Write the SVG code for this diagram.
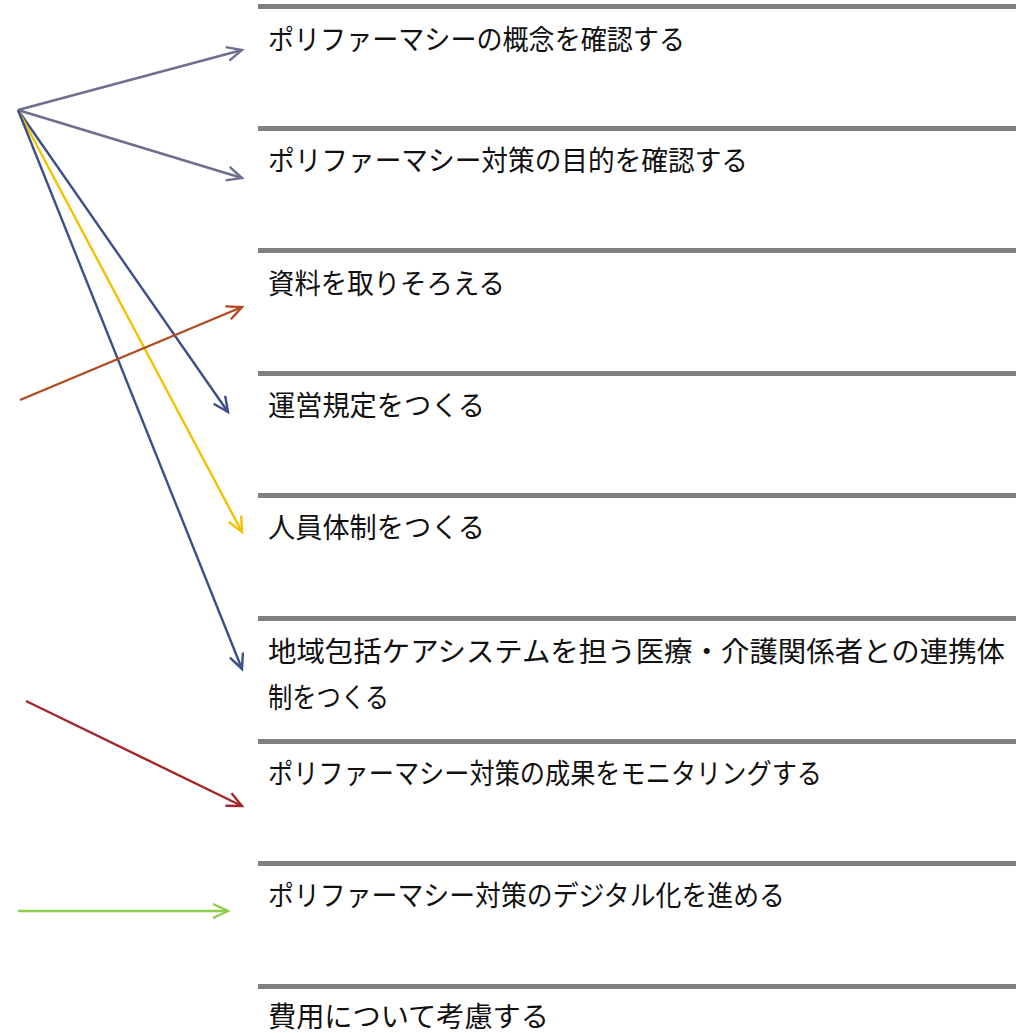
<svg xmlns="http://www.w3.org/2000/svg" width="1023" height="1033" viewBox="0 0 1023 1033">
<style>
.bar{fill:#808080}
.t{font-family:"Noto Sans CJK JP","Noto Sans",sans-serif;font-size:28px;fill:#111}
.c{fill:none;stroke-width:2.4}
</style>
<defs>
<marker id="mGray" markerWidth="20" markerHeight="20" refX="16" refY="8" orient="auto" markerUnits="userSpaceOnUse"><path d="M1,1 L16,8 L1,15" fill="none" stroke="#6E6E8E" stroke-width="2.4"/></marker>
<marker id="mNavy" markerWidth="20" markerHeight="20" refX="16" refY="8" orient="auto" markerUnits="userSpaceOnUse"><path d="M1,1 L16,8 L1,15" fill="none" stroke="#3D4F8A" stroke-width="2.4"/></marker>
<marker id="mYel" markerWidth="20" markerHeight="20" refX="16" refY="8" orient="auto" markerUnits="userSpaceOnUse"><path d="M1,1 L16,8 L1,15" fill="none" stroke="#F2C200" stroke-width="2.4"/></marker>
<marker id="mOr" markerWidth="20" markerHeight="20" refX="16" refY="8" orient="auto" markerUnits="userSpaceOnUse"><path d="M1,1 L16,8 L1,15" fill="none" stroke="#B24A20" stroke-width="2.4"/></marker>
<marker id="mRed" markerWidth="20" markerHeight="20" refX="16" refY="8" orient="auto" markerUnits="userSpaceOnUse"><path d="M1,1 L16,8 L1,15" fill="none" stroke="#A0282A" stroke-width="2.4"/></marker>
<marker id="mGrn" markerWidth="20" markerHeight="20" refX="16" refY="8" orient="auto" markerUnits="userSpaceOnUse"><path d="M1,1 L16,8 L1,15" fill="none" stroke="#8DCF4A" stroke-width="2.4"/></marker>
</defs>
<rect width="1023" height="1033" fill="#ffffff"/>
<g id="node1"><rect class="bar" x="258" y="4" width="758" height="5"/><text class="t" x="268" y="50" textLength="417" lengthAdjust="spacingAndGlyphs">ポリファーマシーの概念を確認する</text></g>
<g id="node2"><rect class="bar" x="258" y="126" width="758" height="5"/><text class="t" x="268" y="171" textLength="480" lengthAdjust="spacingAndGlyphs">ポリファーマシー対策の目的を確認する</text></g>
<g id="node3"><rect class="bar" x="258" y="248" width="758" height="5"/><text class="t" x="268" y="294" textLength="237" lengthAdjust="spacingAndGlyphs">資料を取りそろえる</text></g>
<g id="node4"><rect class="bar" x="258" y="371" width="758" height="5"/><text class="t" x="268" y="416" textLength="217" lengthAdjust="spacingAndGlyphs">運営規定をつくる</text></g>
<g id="node5"><rect class="bar" x="258" y="493" width="758" height="5"/><text class="t" x="268" y="538" textLength="217" lengthAdjust="spacingAndGlyphs">人員体制をつくる</text></g>
<g id="node6"><rect class="bar" x="258" y="616" width="758" height="5"/><text class="t" x="268" y="662" textLength="737" lengthAdjust="spacingAndGlyphs">地域包括ケアシステムを担う医療・介護関係者との連携体</text><text class="t" x="268" y="708" textLength="121" lengthAdjust="spacingAndGlyphs">制をつくる</text></g>
<g id="node7"><rect class="bar" x="258" y="739" width="758" height="5"/><text class="t" x="268" y="784" textLength="554" lengthAdjust="spacingAndGlyphs">ポリファーマシー対策の成果をモニタリングする</text></g>
<g id="node8"><rect class="bar" x="258" y="861" width="758" height="5"/><text class="t" x="268" y="906" textLength="517" lengthAdjust="spacingAndGlyphs">ポリファーマシー対策のデジタル化を進める</text></g>
<g id="node9"><rect class="bar" x="258" y="984" width="758" height="5"/><text class="t" x="268" y="1027" textLength="281" lengthAdjust="spacingAndGlyphs">費用について考慮する</text></g>
<g id="connectors">
<line class="c" x1="18" y1="110" x2="242" y2="50" stroke="#6E6E8E" marker-end="url(#mGray)"/>
<line class="c" x1="18" y1="110" x2="242" y2="178" stroke="#6E6E8E" marker-end="url(#mGray)"/>
<line class="c" x1="18" y1="110" x2="228" y2="412" stroke="#3D4F8A" marker-end="url(#mNavy)"/>
<line class="c" x1="18" y1="110" x2="242" y2="532" stroke="#F2C200" marker-end="url(#mYel)"/>
<line class="c" x1="18" y1="110" x2="242" y2="669" stroke="#3D4F8A" marker-end="url(#mNavy)"/>
<line class="c" x1="20" y1="400" x2="242" y2="307" stroke="#B24A20" marker-end="url(#mOr)"/>
<line class="c" x1="26" y1="701" x2="242" y2="806" stroke="#A0282A" marker-end="url(#mRed)"/>
<line class="c" x1="18" y1="911" x2="228" y2="911" stroke="#8DCF4A" marker-end="url(#mGrn)"/>
</g>
</svg>
